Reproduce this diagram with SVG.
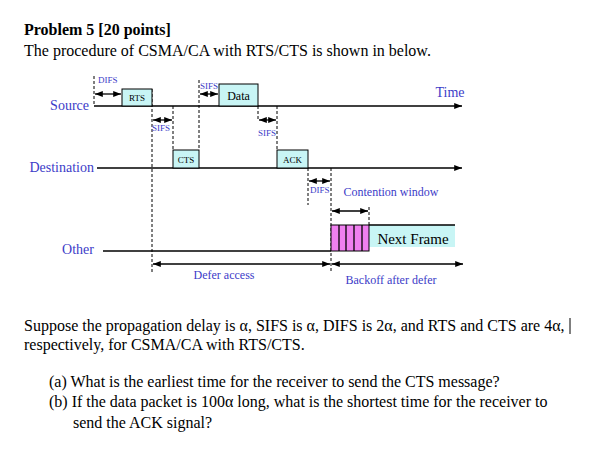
<svg xmlns="http://www.w3.org/2000/svg" width="613" height="456" viewBox="0 0 613 456">
<defs>
<marker id="a" viewBox="0 0 10 10" refX="10" refY="5" markerWidth="6" markerHeight="6" orient="auto-start-reverse"><path d="M0,1 L10,5 L0,9z" fill="#000"/></marker>
</defs>
<style>
.t{font-family:"Liberation Serif","Times New Roman",serif;fill:#000}
.b{font-family:"Liberation Serif","Times New Roman",serif;fill:#3c3cc8}
.ln{stroke:#000;stroke-width:1.3;fill:none}
.d{stroke:#000;stroke-width:1;stroke-dasharray:3,2;fill:none}
.box{fill:#c8f5f5;stroke:#000;stroke-width:1}
</style>
<rect width="613" height="456" fill="#fff"/>
<text class="t" x="24" y="35" font-size="16" font-weight="bold">Problem 5 [20 points]</text>
<text class="t" x="24" y="56" font-size="16">The procedure of CSMA/CA with RTS/CTS is shown in below.</text>
<g id="connectors">
<line class="ln" x1="94" y1="106" x2="462" y2="106" marker-end="url(#a)"/>
<line class="ln" x1="97" y1="168" x2="462" y2="168" marker-end="url(#a)"/>
<line class="ln" x1="103" y1="251" x2="331" y2="251"/>
<line class="d" x1="94" y1="76" x2="94" y2="106"/>
<line class="d" x1="152" y1="89" x2="152" y2="272"/>
<line class="d" x1="173" y1="106" x2="173" y2="150"/>
<line class="d" x1="199" y1="80" x2="199" y2="150"/>
<line class="d" x1="258" y1="106" x2="258" y2="120"/>
<line class="d" x1="277" y1="106" x2="277" y2="150"/>
<line class="d" x1="308" y1="168" x2="308" y2="205"/>
<line class="d" x1="331" y1="168" x2="331" y2="272"/>
<line class="d" x1="369" y1="207" x2="369" y2="225"/>
<line class="ln" x1="95" y1="94" x2="121" y2="94" marker-start="url(#a)" marker-end="url(#a)"/>
<line class="ln" x1="153" y1="120" x2="172" y2="120" marker-start="url(#a)" marker-end="url(#a)"/>
<line class="ln" x1="200" y1="94" x2="218" y2="94" marker-start="url(#a)" marker-end="url(#a)"/>
<line class="ln" x1="259" y1="120" x2="276" y2="120" marker-start="url(#a)" marker-end="url(#a)"/>
<line class="ln" x1="309" y1="181" x2="330" y2="181" marker-start="url(#a)" marker-end="url(#a)"/>
<line class="ln" x1="332" y1="211" x2="368" y2="211" marker-start="url(#a)" marker-end="url(#a)"/>
<line class="ln" x1="153" y1="264" x2="330" y2="264" marker-start="url(#a)" marker-end="url(#a)"/>
<line class="ln" x1="332" y1="264" x2="463" y2="264" marker-start="url(#a)" marker-end="url(#a)"/>
</g>
<g id="rts"><rect class="box" x="122" y="89" width="30" height="17"/><text class="t" x="137" y="101" font-size="9" text-anchor="middle">RTS</text></g>
<g id="cts"><rect class="box" x="173" y="150" width="26" height="18"/><text class="t" x="186" y="163" font-size="9" text-anchor="middle">CTS</text></g>
<g id="data"><rect class="box" x="219" y="84" width="39" height="22"/><text class="t" x="238.5" y="100" font-size="12" text-anchor="middle">Data</text></g>
<g id="ack"><rect class="box" x="277" y="150" width="31" height="18"/><text class="t" x="292.5" y="163" font-size="9" text-anchor="middle">ACK</text></g>
<g id="nextframe">
<rect x="369" y="225" width="86" height="22" fill="#c8f5f5"/>
<line class="ln" x1="369" y1="225" x2="455" y2="225"/>
<rect x="331" y="225" width="38" height="26" fill="#f080f0" stroke="#000" stroke-width="1"/>
<line class="ln" x1="339" y1="225" x2="339" y2="251"/><line class="ln" x1="346" y1="225" x2="346" y2="251"/>
<line class="ln" x1="354" y1="225" x2="354" y2="251"/><line class="ln" x1="362" y1="225" x2="362" y2="251"/>
<text class="t" x="413" y="244" font-size="15" text-anchor="middle">Next Frame</text>
</g>
<g id="labels">
<text class="b" x="98" y="83" font-size="9">DIFS</text>
<text class="b" x="200" y="89" font-size="9">SIFS</text>
<text class="b" x="152" y="131" font-size="9">SIFS</text>
<text class="b" x="258" y="136" font-size="9">SIFS</text>
<text class="b" x="310" y="193" font-size="9">DIFS</text>
<text class="b" x="89" y="110" font-size="14" text-anchor="end">Source</text>
<text class="b" x="94" y="172" font-size="14" text-anchor="end">Destination</text>
<text class="b" x="94" y="254" font-size="14" text-anchor="end">Other</text>
<text class="b" x="450" y="97" font-size="14" text-anchor="middle">Time</text>
<text class="b" x="391" y="196" font-size="12" text-anchor="middle">Contention window</text>
<text class="b" x="224" y="279" font-size="12" text-anchor="middle">Defer access</text>
<text class="b" x="391" y="284" font-size="12" text-anchor="middle">Backoff after defer</text>
</g>
<text class="t" x="24" y="331" font-size="16">Suppose the propagation delay is α, SIFS is α, DIFS is 2α, and RTS and CTS are 4α,</text>
<line x1="570" y1="318" x2="570" y2="334" stroke="#000"/>
<text class="t" x="24" y="350" font-size="16">respectively, for CSMA/CA with RTS/CTS.</text>
<text class="t" x="49" y="387" font-size="16">(a) What is the earliest time for the receiver to send the CTS message?</text>
<text class="t" x="49" y="407" font-size="16">(b) If the data packet is 100α long, what is the shortest time for the receiver to</text>
<text class="t" x="73" y="428" font-size="16">send the ACK signal?</text>
</svg>
